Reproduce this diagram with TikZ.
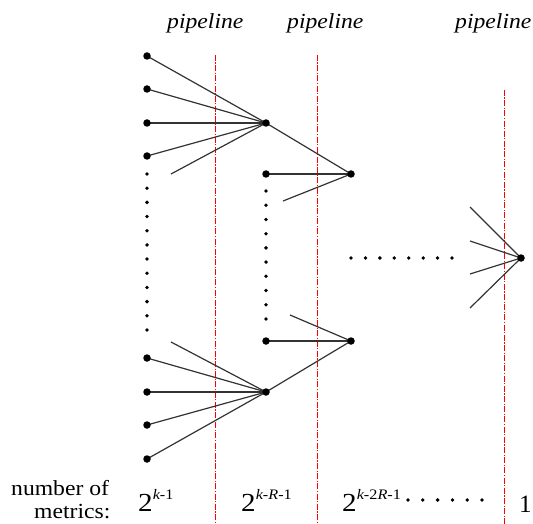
\documentclass[tikz,border=0pt]{standalone}
\usepackage{fontspec}
\setmainfont{Liberation Serif}
\newcommand\expo[1]{\scalebox{1.12}[1]{{\fontsize{26}{26}\selectfont 2}\raisebox{12pt}{\fontsize{14.5}{14.5}\selectfont #1}}}
\newcommand\wide[1]{\scalebox{1.1}[1]{\fontsize{21.5}{21.5}\selectfont #1}}
\begin{document}
\begin{tikzpicture}[x=1pt,y=-1pt,
  bigdot/.style={circle,fill=black,inner sep=0pt,minimum size=7.5pt},
  smalldot/.style={circle,fill=black,inner sep=0pt,minimum size=3.8pt},
  edge/.style={draw=black!80,line width=1.2pt},
  pipe/.style={draw=red,line width=1.2pt,dash pattern=on 6pt off 1.5pt on 1.2pt off 1.5pt},
  lbl/.style={inner sep=0pt,anchor=base west}]
\useasboundingbox (0,0) rectangle (533,524);
% pipeline separators
\coordinate (p1t) at (215.5,55); \coordinate (p1b) at (215.5,524);
\coordinate (p2t) at (317.5,55); \coordinate (p2b) at (317.5,524);
\coordinate (p3t) at (504.5,90); \coordinate (p3b) at (504.5,524);
\draw[pipe] (p1t) -- (p1b);
\draw[pipe] (p2t) -- (p2b);
\draw[pipe] (p3t) -- (p3b);
% labels
\node[lbl] (t1) at (167,29) {\wide{\itshape pipeline}};
\node[lbl] (t2) at (287,29) {\wide{\itshape pipeline}};
\node[lbl] (t3) at (455,29) {\wide{\itshape pipeline}};
\node[lbl] (n1) at (11,495) {\wide{number of}};
\node[lbl] (n2) at (34,518) {\wide{metrics:}};
\node[lbl] (e1) at (138,511) {\expo{\itshape k\upshape -1}};
\node[lbl] (e2) at (241,511) {\expo{\itshape k\upshape -\itshape R\upshape -1}};
\node[lbl] (e3) at (342,511) {\expo{\itshape k\upshape -2\itshape R\upshape -1}};
\node[lbl] (e4) at (519,512) {\fontsize{25}{25}\selectfont 1};
% free ends
\coordinate (a1) at (171,174);
\coordinate (a2) at (171,342);
\coordinate (b1) at (283,201);
\coordinate (b2) at (290,315);
\coordinate (c1) at (470,207);
\coordinate (c2) at (470,241);
\coordinate (c3) at (470,274);
\coordinate (c4) at (470,308);
% big nodes
\coordinate (L1) at (147,56); \coordinate (L2) at (147,89);
\coordinate (L3) at (147,123); \coordinate (L4) at (147,156);
\coordinate (L5) at (147,358); \coordinate (L6) at (147,392);
\coordinate (L7) at (147,425); \coordinate (L8) at (147,459);
\coordinate (H1) at (266,123); \coordinate (H2) at (266,392);
\coordinate (M1) at (266,174); \coordinate (M2) at (266,341);
\coordinate (G1) at (351,174); \coordinate (G2) at (351,341);
\coordinate (F) at (521,258);
% edges
\foreach \s in {L1,L2,L3,L4,a1} \draw[edge] (\s) -- (H1);
\foreach \s in {L5,L6,L7,L8,a2} \draw[edge] (\s) -- (H2);
\foreach \s in {H1,M1,b1} \draw[edge] (\s) -- (G1);
\foreach \s in {H2,M2,b2} \draw[edge] (\s) -- (G2);
\foreach \s in {c1,c2,c3,c4} \draw[edge] (\s) -- (F);
% dots on top
\foreach \s in {L1,L2,L3,L4,L5,L6,L7,L8,H1,H2,M1,M2,G1,G2,F}
  \node[bigdot] (d\s) at (\s) {};
% continuation dots
\foreach \i in {0,...,11} \node[smalldot] (v\i) at (147,{174+\i*14.18}) {};
\foreach \i in {0,...,9} \node[smalldot] (w\i) at (266,{191+\i*14.22}) {};
\foreach \i in {0,...,7} \node[smalldot] (h\i) at ({351+\i*14.43},258) {};
\foreach \i in {0,...,5} \node[smalldot] (q\i) at ({408+\i*14.8},500) {};
\end{tikzpicture}
\end{document}
